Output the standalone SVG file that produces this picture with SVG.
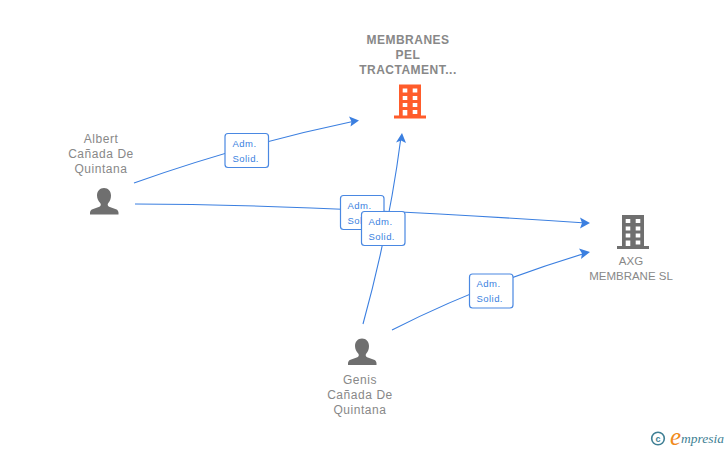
<svg xmlns="http://www.w3.org/2000/svg" width="728" height="450" viewBox="0 0 728 450">
<defs>
<style>
.lbl{font-family:"Liberation Sans",Arial,sans-serif;font-size:12px;fill:#888;text-anchor:middle;letter-spacing:.55px}
.b{font-weight:bold;letter-spacing:.5px}
.n{letter-spacing:0;font-size:11.5px}
.edge{fill:none;stroke:#3b7fe0;stroke-width:1.1}
.badge rect{fill:#fff;stroke:#4a88e2;stroke-width:1.2}
.badge text{font-family:"Liberation Sans",Arial,sans-serif;font-size:9.5px;fill:#3b7fe0;letter-spacing:.45px}
.arrow{fill:#3b7fe0}
</style>
<path id="person" d="M0 0c4.300 0 7 3.300 7 7.500 0 3-1 5.800-2.700 7.600-1 1.200-.8 2.900.8 3.600l6.900 2.500c1.700.7 2.500 1.900 2.500 3.600V26.500H-14V24.800c0-1.700.8-2.900 2.500-3.600l6.900-2.500c1.600-.7 1.800-2.400.8-3.600C-5.500 13.300-7 10.500-7 7.500-7 3.300-4.300 0 0 0z" fill="#6f6f6f"/>
<path id="bld" fill-rule="evenodd" d="M-11 0H11V31H16V34H-16V31H-11ZM-7.300 4V8H-2.700V4ZM2.700 4V8H7.300V4ZM-7.300 11.500V15.500H-2.700V11.500ZM2.700 11.500V15.500H7.300V11.500ZM-7.300 18.500V22.500H-2.700V18.500ZM2.700 18.500V22.500H7.300V18.500ZM-7.300 25.500V31H-2.700V25.500ZM2.700 25.500V29.500H7.300V25.500Z"/>
</defs>
<rect width="728" height="450" fill="#fff"/>
<g id="connectors">
<path class="edge" d="M134 183Q240 145 355 121"/>
<path class="arrow" d="M359 120.500L349 116.500L351.500 121.500L350.500 126.500Z"/>
<path class="edge" d="M135 204Q300 204 586 223"/>
<path class="arrow" d="M590 223L580 217.500L582 223L580 228.500Z"/>
<path class="edge" d="M363 324Q389 230 401 137"/>
<path class="arrow" d="M402 133L396 142.500L401 140.500L406 143Z"/>
<path class="edge" d="M392 330Q480 285 586 253"/>
<path class="arrow" d="M590 252L579 248.500L582 253.500L581 259Z"/>
</g>
<g id="badge1" class="badge"><rect x="225" y="133.500" width="43.500" height="34" rx="3"/><text x="232.500" y="147">Adm.</text><text x="232.500" y="162">Solid.</text></g>
<g id="badge2" class="badge"><rect x="340.500" y="195.500" width="43.500" height="34" rx="3"/><text x="347.500" y="209">Adm.</text><text x="347.500" y="224">Solid.</text></g>
<g id="badge3" class="badge"><rect x="361.500" y="211.500" width="43.500" height="34" rx="3"/><text x="368.500" y="225">Adm.</text><text x="368.500" y="240">Solid.</text></g>
<g id="badge4" class="badge"><rect x="469.500" y="274" width="43.500" height="34" rx="3"/><text x="476.500" y="287">Adm.</text><text x="476.500" y="302">Solid.</text></g>
<g id="node-membranes">
<text class="lbl b" x="408" y="44">MEMBRANES</text><text class="lbl b" x="408" y="59">PEL</text><text class="lbl b" x="408" y="74">TRACTAMENT...</text>
<use href="#bld" x="410" y="84.500" fill="#ff5c2b"/>
</g>
<g id="node-axg">
<use href="#bld" x="633" y="215" fill="#6f6f6f"/>
<text class="lbl n" x="631" y="265">AXG</text><text class="lbl n" x="631" y="280">MEMBRANE SL</text>
</g>
<g id="node-albert">
<text class="lbl" x="101" y="143">Albert</text><text class="lbl" x="101" y="158">Cañada De</text><text class="lbl" x="101" y="173">Quintana</text>
<use href="#person" x="104" y="188"/>
</g>
<g id="node-genis">
<use href="#person" x="362" y="338.500"/>
<text class="lbl" x="360" y="384">Genis</text><text class="lbl" x="360" y="399">Cañada De</text><text class="lbl" x="360" y="414">Quintana</text>
</g>
<g id="logo">
<circle cx="658" cy="438.500" r="6.300" fill="none" stroke="#3f7f94" stroke-width="1.600"/>
<text x="658" y="441.500" font-family="Liberation Sans,sans-serif" font-size="9" font-weight="bold" fill="#3f7f94" text-anchor="middle">c</text>
<text x="670" y="445" font-family="Liberation Serif,serif" font-style="italic" font-size="25" fill="#f08a1c">e</text>
<text x="681" y="443" font-family="Liberation Serif,serif" font-style="italic" font-size="13.500" fill="#3f7f94">mpresia</text>
</g>
</svg>
